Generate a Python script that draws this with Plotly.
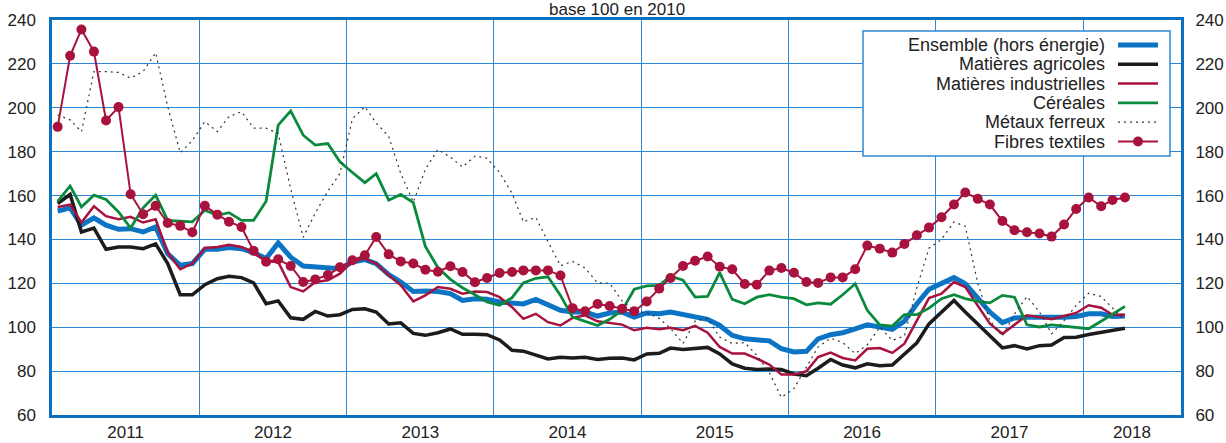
import pandas as pd
import plotly.graph_objects as go

# ---------------- data (monthly, Jan 2011 - Apr 2018, base 100 en 2010) ----------------
start_month = "2011-01-01"
n_months = 88

ensemble = [152.9,154.4,146.5,149.8,146.5,144.6,144.9,143.4,145.7,133.5,128.2,129.0,135.5,135.5,136.3,135.8,134.0,131.3,138.4,131.9,127.9,127.6,127.0,126.7,129.7,130.8,129.0,124.0,120.6,116.3,
            116.5,116.3,115.3,112.2,113.0,112.7,111.5,110.9,110.6,112.7,110.0,107.7,106.9,106.9,105.1,106.5,106.9,104.6,106.5,106.1,106.9,105.7,104.8,103.6,100.8,96.3,94.7,94.4,93.8,90.2,
            88.7,89.0,94.7,96.6,97.5,99.3,101.1,100.1,99.0,102.7,110.7,117.3,119.8,122.6,119.8,113.0,106.9,102.1,104.2,104.6,104.6,104.2,104.6,104.9,106.1,106.1,104.9,105.1]

agricoles = [156.4,160.5,143.4,145.2,135.5,136.6,136.6,135.8,138.0,129.0,114.8,114.8,119.4,122.1,123.2,122.6,120.2,110.7,112.0,104.3,103.6,107.2,105.1,105.7,108.1,108.4,106.9,101.5,102.0,97.2,
             96.3,97.5,99.2,96.8,96.8,96.6,94.2,89.5,89.1,87.3,85.5,86.3,86.0,86.3,85.3,85.9,86.0,85.1,87.8,88.1,90.5,89.9,90.2,90.8,87.8,83.3,81.3,80.7,81.0,80.7,
             78.7,77.9,81.3,85.3,82.8,81.5,83.3,82.5,82.8,87.8,92.9,101.5,106.9,112.2,106.9,101.5,95.9,90.6,91.6,90.1,91.6,91.9,95.3,95.4,96.7,97.7,98.5,99.5]

industrielles = [154.8,155.9,147.7,155.1,150.6,149.2,150.3,147.7,149.2,134.0,126.4,129.0,136.1,136.6,137.6,136.6,134.0,130.0,129.7,118.3,116.3,120.6,121.4,124.4,130.0,131.3,129.0,123.7,119.1,111.8,
                 114.5,118.3,117.5,115.3,116.3,116.0,113.7,109.1,103.8,106.1,102.3,100.8,104.2,105.4,102.7,102.1,101.2,98.6,99.7,99.1,99.7,98.6,100.6,97.5,91.0,88.0,88.0,85.7,83.0,78.4,
                 78.4,79.9,86.4,88.4,86.0,84.9,90.2,90.5,88.3,92.5,103.2,113.3,115.3,120.6,118.3,110.0,101.6,97.0,101.1,105.4,104.6,103.6,105.1,106.5,110.0,108.9,105.7,105.7]

cereales = [157.4,164.4,154.8,160.2,158.2,152.5,145.2,154.4,160.2,148.7,148.3,148.0,153.3,151.0,152.2,148.7,148.7,157.4,192.1,198.6,187.5,183.0,183.7,175.4,170.5,165.9,170.0,157.9,160.5,156.8,
            136.8,127.2,121.8,118.0,114.8,111.5,110.0,113.5,120.2,122.3,123.0,114.5,104.6,102.7,100.8,103.6,107.7,117.3,118.8,119.1,123.3,121.4,113.7,114.0,124.9,112.7,110.7,113.7,114.8,113.7,
            113.0,110.2,111.1,110.5,114.8,119.8,107.7,101.1,100.5,105.7,105.7,108.7,113.0,114.8,113.0,111.8,111.1,114.5,113.7,101.1,100.1,101.1,100.5,99.7,99.3,102.7,106.1,109.5]

metaux_ferreux = [196.7,194.5,189.1,216.5,216.5,216.1,213.5,216.5,225.1,200.5,179.5,185.0,193.7,189.1,196.0,198.2,190.7,190.7,188.4,163.0,141.0,152.0,162.0,170.0,195.0,200.5,193.0,187.0,170.0,157.0,
                  172.0,181.0,177.5,173.0,178.0,177.0,170.5,161.0,148.0,150.0,139.0,128.0,130.0,127.0,120.2,120.0,112.0,107.5,106.5,104.0,99.4,92.6,102.8,104.0,95.5,92.6,93.0,87.2,79.3,68.0,
                  72.0,82.0,91.0,95.0,93.0,88.0,92.0,100.0,94.0,96.0,118.0,136.0,140.0,148.0,146.0,120.0,103.0,96.0,106.0,114.0,107.0,97.0,103.0,110.0,115.5,114.0,109.0,103.0]

fibres_textiles = [191.3,223.7,235.7,225.6,194.2,200.3,160.6,151.5,155.3,147.5,146.2,143.3,155.3,151.3,148.1,145.7,134.8,129.8,131.0,127.9,120.6,121.8,123.8,127.3,130.5,132.8,141.1,133.2,130.0,129.0,
                   126.2,125.3,127.8,125.2,120.5,122.4,124.7,125.2,125.9,125.9,125.9,123.6,108.7,107.3,110.6,109.7,108.4,107.3,111.7,117.6,122.4,127.9,130.3,132.2,127.6,126.4,119.7,119.4,125.8,127.0,
                   124.8,120.6,120.2,122.7,122.7,126.4,137.2,135.8,134.0,137.9,141.9,145.4,150.1,155.9,161.4,158.5,155.9,148.4,144.2,143.3,142.7,141.3,146.8,153.9,159.1,155.1,158.0,159.1]

year_labels = ["2011", "2012", "2013", "2014", "2015", "2016", "2017", "2018"]
y_ticks = [60, 80, 100, 120, 140, 160, 180, 200, 220, 240]

legend_names = ["Ensemble (hors énergie)", "Matières agricoles", "Matières industrielles",
                "Céréales", "Métaux ferreux", "Fibres textiles"]

# ---------------- styling ----------------
FONT = "Liberation Sans, Arial, Helvetica, sans-serif"
BLUE = "#0b74c4"
BLACK = "#1c1c1c"
CRIMSON = "#a8123c"
GREEN = "#0a8a3c"
GRID = "#2c88d4"
FRAME = "#0a70c0"
TXT = "#222222"

W, H = 1226, 443
L, R, T, B = 52, 1181, 20, 415   # plot area in pixels

def px_x(px):
    return (px - L) / (R - L)

def px_y(py):
    return (B - py) / (B - T)

months = pd.date_range(start_month, periods=n_months, freq="MS")
x = months + pd.Timedelta(days=14)

x_start = pd.Timestamp(start_month)
x_end = pd.Timestamp("2018-09-01")
label_pos = []
for yr in year_labels:
    a = pd.Timestamp(f"{yr}-01-01")
    b = min(pd.Timestamp(f"{int(yr)+1}-01-01"), x_end)
    label_pos.append(a + (b - a) / 2)

fig = go.Figure()

series = [
    (ensemble, dict(color=BLUE, width=5), None),
    (agricoles, dict(color=BLACK, width=3.5), None),
    (industrielles, dict(color=CRIMSON, width=2.5), None),
    (cereales, dict(color=GREEN, width=2.8), None),
    (metaux_ferreux, dict(color="#333333", width=1.2, dash="2px,4px"), None),
    (fibres_textiles, dict(color=CRIMSON, width=2), dict(size=10, color=CRIMSON)),
]
for (vals, line, marker), name in zip(series, legend_names):
    fig.add_trace(go.Scatter(
        x=x, y=vals, name=name, mode="lines+markers" if marker else "lines",
        line=line, marker=marker, showlegend=False, hoverinfo="skip"))

# dummy trace to anchor the right-hand axis
fig.add_trace(go.Scatter(x=[x[0]], y=[None], yaxis="y2", showlegend=False, hoverinfo="skip"))

fig.update_layout(
    width=W, height=H,
    margin=dict(l=L, r=W - R, t=T, b=H - B, pad=0, autoexpand=False),
    paper_bgcolor="white", plot_bgcolor="white",
    font=dict(family=FONT, color=TXT),
    xaxis=dict(
        range=[x_start, x_end], type="date", automargin=False,
        tickmode="array", tickvals=label_pos, ticktext=year_labels,
        tickfont=dict(size=17, color=TXT),
        ticks="", ticklabelstandoff=0,
        showgrid=False, zeroline=False,
        showline=True, linecolor=FRAME, linewidth=2.5, mirror=True,
        minor=dict(tickmode="array",
                   tickvals=[pd.Timestamp(f"{y}-01-01") for y in year_labels[1:]],
                   showgrid=True, gridcolor=GRID, gridwidth=1.3, ticks=""),
    ),
    yaxis=dict(
        range=[60, 240], tickmode="array", tickvals=y_ticks, automargin=False,
        tickfont=dict(size=17, color=TXT),
        ticks="outside", ticklen=10, tickcolor="rgba(0,0,0,0)",
        showgrid=True, gridcolor=GRID, gridwidth=1.3, zeroline=False,
        showline=True, linecolor=FRAME, linewidth=2.5, mirror=True,
    ),
    yaxis2=dict(
        range=[60, 240], tickmode="array", tickvals=y_ticks, automargin=False,
        overlaying="y", side="right", anchor="x",
        tickfont=dict(size=17, color=TXT),
        ticks="outside", ticklen=10, tickcolor="rgba(0,0,0,0)",
        showgrid=False, zeroline=False, showline=False,
    ),
)

# title
fig.add_annotation(text="base 100 en 2010", xref="paper", yref="paper",
                   x=0.5, y=px_y(9), xanchor="center", yanchor="middle",
                   showarrow=False, font=dict(size=17, color=TXT, family=FONT))

# custom legend (text right-aligned, sample on the right)
box_l, box_r, box_t, box_b = 863, 1170, 31, 156
fig.add_shape(type="rect", xref="paper", yref="paper",
              x0=px_x(box_l), x1=px_x(box_r), y0=px_y(box_b), y1=px_y(box_t),
              line=dict(color=GRID, width=1.5), fillcolor="white", layer="above")
row_y = [45, 64.3, 83.6, 102.9, 122.2, 141.5]
samples = [
    dict(color=BLUE, width=5),
    dict(color=BLACK, width=3.5),
    dict(color=CRIMSON, width=2.5),
    dict(color=GREEN, width=2.8),
    dict(color="#333333", width=1.2, dash="2px,4px"),
    dict(color=CRIMSON, width=2),
]
for name, ry, ln in zip(legend_names, row_y, samples):
    fig.add_annotation(text=name, xref="paper", yref="paper",
                       x=px_x(1106), y=px_y(ry), xanchor="right", yanchor="middle",
                       showarrow=False, borderpad=0,
                       font=dict(size=18, color=TXT, family=FONT))
    fig.add_shape(type="line", xref="paper", yref="paper",
                  x0=px_x(1118), x1=px_x(1158), y0=px_y(ry), y1=px_y(ry),
                  line=ln, layer="above")
# dot for textile fibres sample
cx, cy, r = 1138, row_y[-1], 5
fig.add_shape(type="circle", xref="paper", yref="paper",
              x0=px_x(cx - r), x1=px_x(cx + r), y0=px_y(cy + r), y1=px_y(cy - r),
              line=dict(color=CRIMSON, width=0), fillcolor=CRIMSON, layer="above")

# remove the default page margin so the figure sits at the window's top-left corner
fig.write_html("out.html",
               config={"displayModeBar": False},
               post_script="document.body.style.margin='0';document.body.style.padding='0';"
                           "document.body.style.overflow='hidden';")
